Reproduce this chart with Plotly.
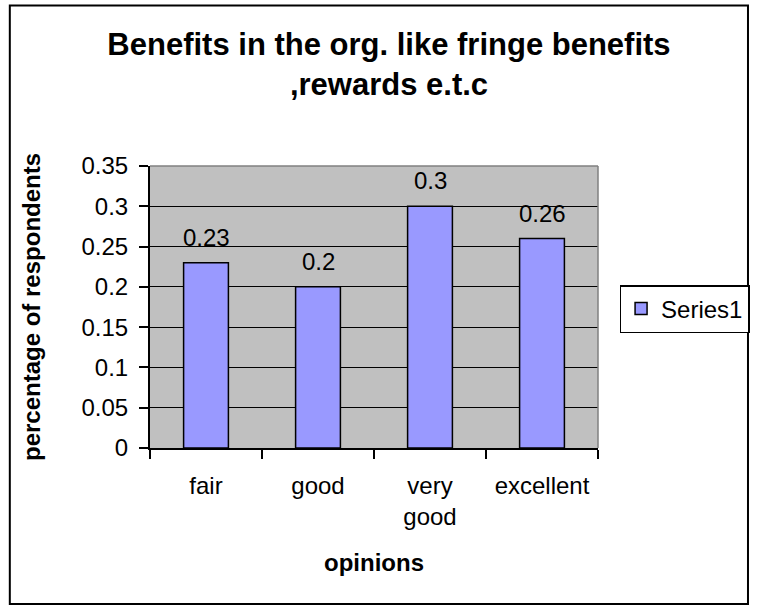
import plotly.graph_objects as go

# Survey data
categories = ["fair", "good", "very<br>good", "excellent"]
shares = [0.23, 0.2, 0.3, 0.26]
series_name = "Series1"

y_tick_vals = [0, 0.05, 0.1, 0.15, 0.2, 0.25, 0.3, 0.35]
y_tick_text = ["0", "0.05", "0.1", "0.15", "0.2", "0.25", "0.3", "0.35"]

W, H = 762, 606
L, R, T, B = 150, 155, 166, 158
PW, PH = W - L - R, H - T - B
FONT = "Arial, Liberation Sans, sans-serif"


def px_x(px):
    return (px - L) / PW


def px_y(py):
    return (H - B - py) / PH


fig = go.Figure()
fig.add_trace(go.Bar(
    x=categories, y=shares, name=series_name,
    marker=dict(color="#9999FF", line=dict(color="black", width=1.5)),
    showlegend=True,
))

# value labels above each bar
for c, v in zip(categories, shares):
    fig.add_annotation(x=c, y=v, text=f"{v:g}", showarrow=False,
                       yanchor="bottom", yshift=10,
                       font=dict(family=FONT, size=24, color="black"))

shapes = [
    # plot-area top and right edges
    dict(type="line", xref="paper", yref="paper", x0=0, x1=1, y0=1, y1=1,
         line=dict(color="#808080", width=1.5)),
    dict(type="line", xref="paper", yref="paper", x0=1, x1=1, y0=0, y1=1,
         line=dict(color="#808080", width=1.5)),
    # chart frame
    dict(type="rect", xref="paper", yref="paper",
         x0=px_x(7), x1=px_x(760), y0=px_y(604), y1=px_y(5.5),
         line=dict(color="black", width=2), fillcolor="rgba(0,0,0,0)"),
]

fig.update_layout(
    width=W, height=H,
    margin=dict(l=L, r=R, t=T, b=B),
    paper_bgcolor="white", plot_bgcolor="#C0C0C0",
    bargap=0.6,
    font=dict(family=FONT, size=24, color="black"),
    title=dict(text="<b>Benefits in the org. like fringe benefits<br>,rewards e.t.c</b>",
               x=389 / W, xanchor="center", xref="container",
               y=1 - 55 / H, yanchor="top", yref="container",
               font=dict(family=FONT, size=31, color="black")),
    legend=dict(x=px_x(629), y=px_y(285), xanchor="left", yanchor="top",
                bordercolor="black", borderwidth=1.5, bgcolor="white",
                font=dict(family=FONT, size=24, color="black")),
    shapes=shapes,
)

fig.update_xaxes(
    type="category", showgrid=False, showline=True, linecolor="black", linewidth=2,
    ticks="outside", tickson="boundaries", ticklen=9, tickcolor="black", tickwidth=1.5,
    ticklabelstandoff=15,
    tickfont=dict(family=FONT, size=24, color="black"),
    title=dict(text="<b>opinions</b>", font=dict(family=FONT, size=24, color="black"),
               standoff=25),
)
fig.update_yaxes(
    range=[0, 0.35], tickvals=y_tick_vals, ticktext=y_tick_text,
    showgrid=True, gridcolor="black", gridwidth=1.2, zeroline=False,
    showline=True, linecolor="black", linewidth=2,
    ticks="outside", ticklen=9, tickcolor="black", tickwidth=1.5,
    ticklabelstandoff=6,
    tickfont=dict(family=FONT, size=24, color="black"),
    title=dict(text="<b>percentage of respondents</b>",
               font=dict(family=FONT, size=24, color="black"), standoff=34),
)

fig.write_html("out.html")
